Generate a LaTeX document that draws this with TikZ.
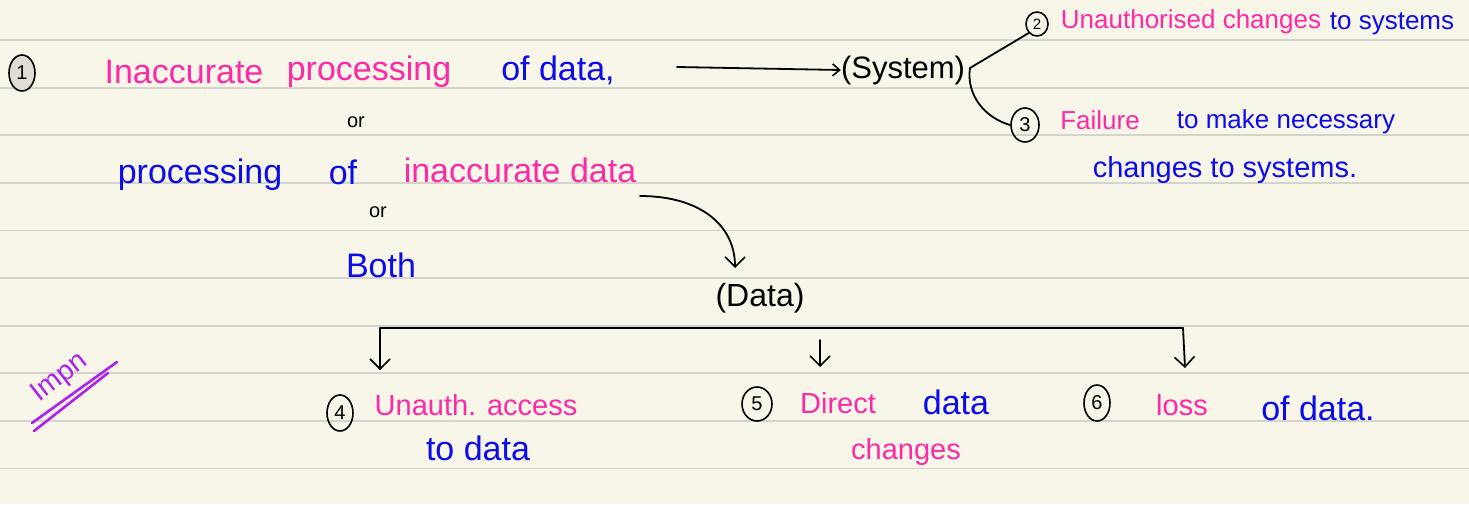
\documentclass[tikz,border=0pt]{standalone}
\usepackage{fontspec}
\setmainfont{Liberation Sans}
\usetikzlibrary{arrows.meta,shapes.geometric}
\definecolor{paper}{RGB}{248,246,232}
\definecolor{rule}{RGB}{212,212,206}
\definecolor{hpink}{RGB}{255,40,165}
\definecolor{hblue}{RGB}{12,12,235}
\definecolor{hpurple}{RGB}{172,32,240}
\definecolor{numfill}{RGB}{224,222,212}
\tikzset{
  hw/.style={inner sep=0pt,font=\fontsize{34}{36}\selectfont},
  hws/.style={inner sep=0pt,font=\fontsize{26}{28}\selectfont},
  hwm/.style={inner sep=0pt,font=\fontsize{29}{31}\selectfont},
  pk/.style={text=hpink},
  bl/.style={text=hblue},
  bk/.style={text=black},
  num/.style={draw=black,line width=1.6pt,ellipse,inner sep=0pt,minimum width=26pt,minimum height=36pt,font=\fontsize{20}{20}\selectfont},
  numsm/.style={draw=black,line width=1.6pt,ellipse,inner sep=0pt,minimum width=22pt,minimum height=24pt,font=\fontsize{15}{15}\selectfont},
  conn/.style={draw=black,line width=1.8pt,line cap=round},
  barb/.style={-{Straight Barb[length=10pt,width=20pt,line width=1.6pt]}},
  barbsm/.style={-{Straight Barb[length=7pt,width=12pt,line width=1.6pt]}}
}
\begin{document}
\begin{tikzpicture}[x=1pt,y=-1pt]
\useasboundingbox (0,0) rectangle (1469,504);
\fill[paper] (0,0) rectangle (1469,504);
\foreach \k in {0,...,9} {
  \draw[rule,line width=1.8pt] (0,{40+47.6*\k}) -- (1469,{40+47.6*\k});
}
% item 1
\node[num,fill=numfill] (n1) at (22,73) {1};
\node[hw,pk] (t1a) at (184,72) {Inaccurate};
\node[hw,pk] (t1b) at (369,72) {processing};
\node[hw,bl] (t1c) at (558,70) {of data,};
\node[inner sep=0pt,bk,font=\fontsize{20}{20}\selectfont] (or1) at (356,122) {or};
\node[hw,bl] (t1d) at (200,175) {processing};
\node[hw,bl] (t1e) at (343,172) {of};
\node[hw,pk] (t1f) at (520,170) {inaccurate data};
\node[inner sep=0pt,bk,font=\fontsize{20}{20}\selectfont] (or2) at (378,212) {or};
\node[hw,bl] (both) at (381,265) {Both};
% system
\coordinate (a0) at (677,67);
\node[hw,bk,font=\fontsize{31}{33}\selectfont] (sys) at (903,70) {(System)};
\draw[conn,barbsm] (a0) -- (sys.west);
\coordinate (br) at (970,68);
\node[numsm] (n2) at (1037,24) {2};
\node[num,minimum width=28pt,minimum height=34pt] (n3) at (1025,125) {3};
\draw[conn] (br) -- (n2.south west);
\draw[conn] (br) .. controls (966,95) and (985,118) .. (n3.west);
\node[hws,pk] (t2a) at (1191,22) {Unauthorised changes};
\node[hws,bl] (t2b) at (1392,24) {to systems};
\node[hws,pk] (t3a) at (1100,120) {Failure};
\node[hws,bl] (t3b) at (1286,122) {to make necessary};
\node[hwm,bl] (t3c) at (1225,170) {changes to systems.};
% data
\coordinate (c0) at (640,196);
\node[hw,bk,font=\fontsize{32}{34}\selectfont] (data) at (760,298) {(Data)};
\coordinate (c1) at (735,268);
\draw[conn,barb] (c0) .. controls (700,196) and (735,225) .. (c1);
\coordinate (bl) at (380,328);
\coordinate (bR) at (1183,328);
\coordinate (d4) at (380,370);
\coordinate (d5s) at (820,340);
\coordinate (d5) at (820,367);
\coordinate (d6) at (1185,368);
\draw[conn] (bl) -- (bR);
\draw[conn,barb] (bl) -- (d4);
\draw[conn,barb] (d5s) -- (d5);
\draw[conn,barb] (bR) -- (d6);
% imp
\node[inner sep=0pt,text=hpurple,rotate=38,font=\fontsize{28}{28}\selectfont] (imp) at (60,378) {Impn};
\coordinate (u1a) at (32,423);
\coordinate (u1b) at (117,362);
\coordinate (u2a) at (34,431);
\coordinate (u2b) at (108,373);
\draw[hpurple,line width=2.6pt,line cap=round] (u1a) -- (u1b);
\draw[hpurple,line width=2.6pt,line cap=round] (u2a) -- (u2b);
% 4 5 6
\node[num] (n4) at (340,413) {4};
\node[hwm,pk] (t4a) at (476,405) {Unauth. access};
\node[hw,bl] (t4b) at (478,448) {to data};
\node[num,minimum width=30pt,minimum height=34pt] (n5) at (757,404) {5};
\node[hwm,pk] (t5a) at (838,403) {Direct};
\node[hw,bl] (t5b) at (956,402) {data};
\node[hwm,pk] (t5c) at (906,452) {changes};
\node[num] (n6) at (1097,403) {6};
\node[hwm,pk] (t6a) at (1182,405) {loss};
\node[hw,bl] (t6b) at (1318,408) {of data.};
\end{tikzpicture}
\end{document}
